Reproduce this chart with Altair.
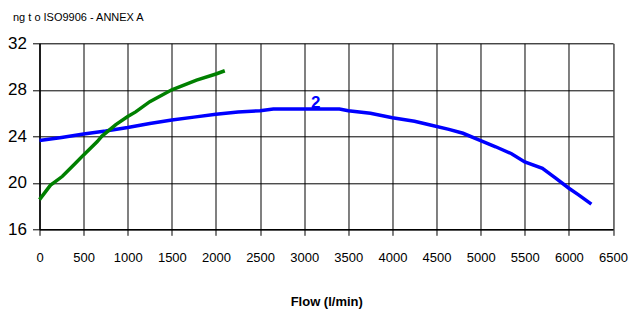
import altair as alt
import pandas as pd

# Curve "2" (blue)
blue_flow = [0, 250, 500, 750, 1000, 1250, 1500, 1750, 2000, 2250, 2500, 2650,
             3000, 3400, 3500, 3750, 4000, 4250, 4430, 4640, 4800, 5000, 5170,
             5350, 5500, 5700, 5850, 6000, 6110, 6255]
blue_head = [23.63, 23.9, 24.2, 24.45, 24.75, 25.1, 25.4, 25.65, 25.9, 26.1, 26.2, 26.35,
             26.35, 26.35, 26.2, 25.98, 25.6, 25.3, 24.97, 24.6, 24.26, 23.63, 23.1,
             22.5, 21.8, 21.25, 20.4, 19.53, 18.96, 18.16]

# Green curve
green_flow = [0, 125, 160, 260, 410, 500, 655, 705, 865, 1000, 1090, 1250,
              1500, 1780, 2000, 2100]
green_head = [18.55, 19.8, 20.0, 20.56, 21.7, 22.4, 23.55, 24.0, 25.0, 25.7, 26.1, 26.98,
              28.0, 28.84, 29.36, 29.64]

# Curve label
label_flow = [3130]
label_head = [26.9]
label_text = ["2"]

x_ticks = list(range(0, 6501, 250))
y_ticks = list(range(16, 33, 2))

df = pd.concat([
    pd.DataFrame({"flow": blue_flow, "head": blue_head, "curve": "blue"}),
    pd.DataFrame({"flow": green_flow, "head": green_head, "curve": "green"}),
])
lab = pd.DataFrame({"flow": label_flow, "head": label_head, "text": label_text})

xscale = alt.Scale(domain=[0, 6500], nice=False)
yscale = alt.Scale(domain=[16, 32], nice=False)

FONT = "Liberation Sans"

xaxis = alt.Axis(
    values=x_ticks, format="d",
    labelExpr="datum.value % 500 === 0 ? datum.label : ''",
    grid=True, gridColor="black", gridWidth=1,
    gridOpacity={"condition": {"test": "datum.value % 500 === 0", "value": 1}, "value": 0},
    tickColor="black", tickSize=6, domainColor="black", domainWidth=1.5,
    labelFont=FONT, labelFontSize=13, labelColor="black",
    labelPadding=16, labelOverlap=False, labelFlush=False, labelBound=False,
    title="Flow (l/min)", titleFont=FONT, titleFontSize=13,
    titleFontWeight="bold", titleColor="black", titleBaseline="alphabetic", titleY=76,
)
yaxis = alt.Axis(
    values=y_ticks, format="d",
    labelExpr="datum.value % 4 === 0 ? datum.label : ''",
    grid=True, gridColor="black", gridWidth=1,
    gridOpacity={"condition": {"test": "datum.value % 4 === 0", "value": 1}, "value": 0},
    tickColor="black", tickSize=7, domainColor="black", domainWidth=1.5,
    labelFont=FONT, labelFontSize=17, labelColor="black",
    labelPadding=6, labelOverlap=False, labelFlush=False, labelBound=False,
    title=None,
)

lines = alt.Chart(df).mark_line(strokeWidth=3.5).encode(
    x=alt.X("flow:Q", scale=xscale, axis=xaxis),
    y=alt.Y("head:Q", scale=yscale, axis=yaxis),
    color=alt.Color("curve:N", scale=alt.Scale(domain=["blue", "green"],
                                               range=["#0000FF", "#008000"]), legend=None),
    detail="curve:N",
)

text = alt.Chart(lab).mark_text(fontSize=17, fontWeight="bold", color="#0000FF",
                                font=FONT).encode(
    x=alt.X("flow:Q", scale=xscale),
    y=alt.Y("head:Q", scale=yscale),
    text="text:N",
)

chart = alt.layer(lines, text).properties(
    width=573.5, height=186,
    autosize=alt.AutoSizeParams(type="none"),
    padding={"left": 31.5, "top": 35.3, "right": 19, "bottom": 80},
    title=alt.TitleParams("ng t o ISO9906 - ANNEX A", anchor="start", frame="group",
                          dx=-26.5, offset=2, fontSize=11, fontWeight="normal",
                          font=FONT, color="black", baseline="alphabetic"),
).configure_view(fill="#FFFF99", stroke="#808080", strokeWidth=2).configure(background="white")

chart.save("out.html", embed_options={"renderer": "svg", "actions": False})
